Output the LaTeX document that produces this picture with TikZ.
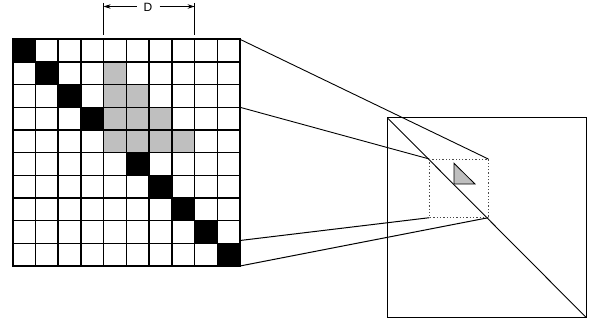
\documentclass[tikz,border=0pt]{standalone}
\usepackage{fontspec}
\setmainfont{Liberation Sans}
\usetikzlibrary{arrows.meta}
\begin{document}
\begin{tikzpicture}[x=1pt,y=-1pt,
  gridline/.style={line width=1.5pt,black},
  thinline/.style={line width=0.9pt,black},
  dimline/.style={line width=0.7pt,black},
  dimarrow/.style={line width=0.7pt,-{Stealth[length=7pt,width=4.5pt]}},
  grayfill/.style={fill=black!25},
  dotbox/.style={line width=1pt,black!70,dash pattern=on 1.3pt off 2pt}]
\useasboundingbox (0,0) rectangle (589,321);
\def\gx{12.7}\def\gy{39.3}\def\cw{22.73}\def\ch{22.67}
% gray cells
\foreach \r/\c in {2/5,3/5,3/6,4/5,4/6,4/7,5/5,5/6,5/7,5/8}{
  \fill[grayfill] ({\gx+(\c-1)*\cw},{\gy+(\r-1)*\ch}) rectangle ++(\cw,\ch);}
% black cells
\foreach \k in {1,2,3,4,6,7,8,9,10}{
  \fill[black] ({\gx+(\k-1)*\cw},{\gy+(\k-1)*\ch}) rectangle ++(\cw,\ch);}
% grid lines
\foreach \i in {0,...,10}{
  \draw[gridline] ({\gx+\i*\cw},\gy) -- ({\gx+\i*\cw},{\gy+10*\ch});
  \draw[gridline] (\gx,{\gy+\i*\ch}) -- ({\gx+10*\cw},{\gy+\i*\ch});}
\draw[line width=1.6pt] (\gx,\gy) rectangle ({\gx+10*\cw},{\gy+10*\ch});
% dimension D
\coordinate (dl) at ({\gx+4*\cw},3);
\coordinate (dlb) at ({\gx+4*\cw},35);
\coordinate (dr) at ({\gx+8*\cw},3);
\coordinate (drb) at ({\gx+8*\cw},35);
\draw[dimline] (dl) -- (dlb);
\draw[dimline] (dr) -- (drb);
\node[inner sep=1pt,font=\fontsize{12}{14}\selectfont] (D) at (148,7) {D};
\coordinate (al) at ({\gx+4*\cw},6.5);
\coordinate (ar) at ({\gx+8*\cw},6.5);
\draw[dimarrow] (136.5,6.5) -- (al);
\draw[dimarrow] (159.5,6.5) -- (ar);
% big square and diagonal
\coordinate (sqtl) at (387.3,117.7);
\coordinate (sqbr) at (586,317.3);
\draw[thinline] (sqtl) rectangle (sqbr);
\draw[thinline] (sqtl) -- (sqbr);
% dotted box
\coordinate (btl) at (429.3,159);
\coordinate (btr) at (488.3,159);
\coordinate (bbl) at (429.3,217.7);
\coordinate (bbr) at (488.3,217.7);
\draw[dotbox] (btl) rectangle (bbr);
% triangle
\coordinate (t1) at (454,163.3);
\coordinate (t2) at (454,184);
\coordinate (t3) at (475,184);
\draw[grayfill,draw=black,line width=0.8pt] (t1) -- (t2) -- (t3) -- cycle;
% connectors from grid
\coordinate (g1) at (240.0,39.3);
\coordinate (g2) at (240.0,107.3);
\coordinate (g3) at (240.0,240.5);
\coordinate (g4) at (240.0,266.0);
\draw[thinline] (g1) -- (btr);
\draw[thinline] (g2) -- (btl);
\draw[line width=1pt] (g3) -- (bbl);
\draw[line width=1pt] (g4) -- (bbr);
\end{tikzpicture}
\end{document}
